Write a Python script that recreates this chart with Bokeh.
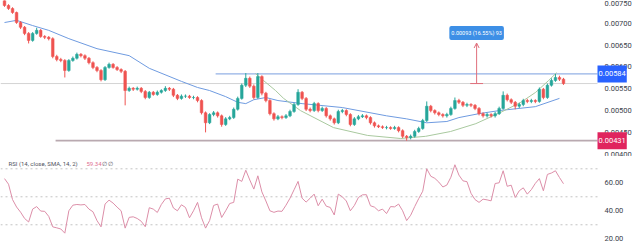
from bokeh.plotting import figure
from bokeh.layouts import column
from bokeh.models import (ColumnDataSource, FixedTicker, PrintfTickFormatter, Range1d,
                          Label, Arrow, OpenHead)
from bokeh.embed import file_html
from bokeh.resources import INLINE

# ---- price data (one candle per bar, oldest first) ----
first_open = 0.00753
closes = [
    0.00741, 0.00734, 0.00725, 0.00702, 0.00691, 0.00677, 0.00661, 0.00677, 0.00684, 0.00670,
    0.00668, 0.00665, 0.00624, 0.00617, 0.00615, 0.00592, 0.00615, 0.00620, 0.00629, 0.00626,
    0.00620, 0.00610, 0.00599, 0.00592, 0.00571, 0.00599, 0.00606, 0.00599, 0.00594, 0.00590,
    0.00546, 0.00551, 0.00549, 0.00551, 0.00544, 0.00530, 0.00542, 0.00537, 0.00542, 0.00546,
    0.00551, 0.00549, 0.00535, 0.00528, 0.00533, 0.00533, 0.00530, 0.00530, 0.00523, 0.00495,
    0.00472, 0.00491, 0.00495, 0.00488, 0.00468, 0.00481, 0.00484, 0.00503, 0.00528, 0.00558,
    0.00574, 0.00556, 0.00530, 0.00578, 0.00540, 0.00523, 0.00493, 0.00481, 0.00486, 0.00484,
    0.00488, 0.00498, 0.00514, 0.00542, 0.00528, 0.00503, 0.00500, 0.00516, 0.00500, 0.00505,
    0.00488, 0.00481, 0.00472, 0.00498, 0.00500, 0.00491, 0.00468, 0.00481, 0.00486, 0.00488,
    0.00484, 0.00472, 0.00465, 0.00463, 0.00461, 0.00461, 0.00459, 0.00461, 0.00454, 0.00441,
    0.00438, 0.00441, 0.00452, 0.00459, 0.00477, 0.00510, 0.00500, 0.00495, 0.00491, 0.00488,
    0.00491, 0.00505, 0.00523, 0.00519, 0.00512, 0.00514, 0.00512, 0.00505, 0.00493, 0.00488,
    0.00491, 0.00488, 0.00493, 0.00505, 0.00535, 0.00525, 0.00519, 0.00510, 0.00514, 0.00523,
    0.00521, 0.00523, 0.00521, 0.00549, 0.00530, 0.00558, 0.00569, 0.00576, 0.00572, 0.00562,
]
highs = [
    0.00758, 0.00744, 0.00737, 0.00727, 0.00705, 0.00694, 0.00680, 0.00680, 0.00690, 0.00687,
    0.00673, 0.00671, 0.00668, 0.00628, 0.00621, 0.00618, 0.00618, 0.00624, 0.00633, 0.00632,
    0.00629, 0.00623, 0.00613, 0.00602, 0.00595, 0.00602, 0.00610, 0.00609, 0.00602, 0.00597,
    0.00593, 0.00555, 0.00554, 0.00555, 0.00554, 0.00547, 0.00545, 0.00545, 0.00546, 0.00549,
    0.00556, 0.00554, 0.00552, 0.00538, 0.00537, 0.00537, 0.00536, 0.00534, 0.00533, 0.00526,
    0.00498, 0.00494, 0.00499, 0.00498, 0.00491, 0.00485, 0.00488, 0.00507, 0.00532, 0.00562,
    0.00586, 0.00578, 0.00560, 0.00586, 0.00581, 0.00543, 0.00526, 0.00496, 0.00490, 0.00489,
    0.00492, 0.00502, 0.00518, 0.00549, 0.00545, 0.00531, 0.00507, 0.00520, 0.00519, 0.00509,
    0.00508, 0.00491, 0.00484, 0.00502, 0.00504, 0.00503, 0.00494, 0.00485, 0.00490, 0.00492,
    0.00491, 0.00487, 0.00475, 0.00468, 0.00466, 0.00465, 0.00464, 0.00465, 0.00464, 0.00457,
    0.00444, 0.00445, 0.00456, 0.00463, 0.00481, 0.00521, 0.00513, 0.00503, 0.00498, 0.00494,
    0.00495, 0.00509, 0.00530, 0.00527, 0.00522, 0.00518, 0.00517, 0.00515, 0.00508, 0.00496,
    0.00495, 0.00494, 0.00497, 0.00509, 0.00544, 0.00539, 0.00528, 0.00522, 0.00518, 0.00527,
    0.00527, 0.00527, 0.00526, 0.00553, 0.00552, 0.00562, 0.00574, 0.00584, 0.00580, 0.00575,
]
lows = [
    0.00738, 0.00731, 0.00722, 0.00699, 0.00687, 0.00673, 0.00654, 0.00658, 0.00674, 0.00667,
    0.00664, 0.00661, 0.00620, 0.00613, 0.00611, 0.00576, 0.00589, 0.00612, 0.00617, 0.00622,
    0.00616, 0.00606, 0.00595, 0.00588, 0.00567, 0.00568, 0.00596, 0.00596, 0.00591, 0.00586,
    0.00512, 0.00543, 0.00545, 0.00546, 0.00540, 0.00526, 0.00527, 0.00534, 0.00534, 0.00539,
    0.00543, 0.00545, 0.00531, 0.00524, 0.00525, 0.00529, 0.00527, 0.00526, 0.00519, 0.00491,
    0.00450, 0.00469, 0.00487, 0.00484, 0.00463, 0.00465, 0.00478, 0.00481, 0.00500, 0.00525,
    0.00554, 0.00552, 0.00526, 0.00527, 0.00535, 0.00519, 0.00489, 0.00477, 0.00478, 0.00480,
    0.00481, 0.00485, 0.00495, 0.00511, 0.00524, 0.00499, 0.00496, 0.00497, 0.00496, 0.00497,
    0.00484, 0.00477, 0.00468, 0.00469, 0.00494, 0.00487, 0.00464, 0.00465, 0.00478, 0.00483,
    0.00480, 0.00468, 0.00461, 0.00460, 0.00458, 0.00457, 0.00456, 0.00456, 0.00450, 0.00437,
    0.00431, 0.00434, 0.00438, 0.00449, 0.00456, 0.00474, 0.00496, 0.00491, 0.00487, 0.00484,
    0.00484, 0.00488, 0.00502, 0.00515, 0.00508, 0.00508, 0.00508, 0.00501, 0.00489, 0.00484,
    0.00484, 0.00484, 0.00484, 0.00490, 0.00502, 0.00521, 0.00515, 0.00503, 0.00506, 0.00510,
    0.00517, 0.00517, 0.00517, 0.00518, 0.00526, 0.00527, 0.00555, 0.00566, 0.00568, 0.00559,
]

# RSI(14) per bar
rsi = [
    63.0, 59.0, 48.0, 42.7, 39.0, 34.5, 32.0, 41.2, 43.0, 39.8,
    39.6, 36.0, 28.5, 27.8, 27.0, 24.0, 40.0, 44.0, 44.5, 44.2,
    44.5, 41.2, 39.3, 33.0, 28.5, 44.8, 47.6, 45.5, 42.6, 40.0,
    27.6, 35.3, 35.7, 34.5, 32.5, 28.6, 42.2, 41.2, 38.8, 44.5,
    48.5, 49.0, 42.0, 40.0, 44.3, 42.4, 35.0, 40.0, 46.0, 35.0,
    27.6, 33.0, 43.8, 44.8, 35.2, 40.0, 45.2, 46.0, 62.6, 61.0,
    69.0, 62.0, 55.5, 65.0, 53.5, 47.0, 40.0, 38.9, 39.8, 39.6,
    44.0, 49.0, 55.0, 61.0, 49.0, 46.2, 49.0, 51.9, 43.6, 48.3,
    43.3, 42.4, 37.0, 51.9, 50.0, 47.0, 40.0, 43.8, 49.5, 51.4,
    51.5, 43.6, 42.6, 40.0, 41.2, 38.0, 43.0, 42.8, 44.8, 40.0,
    33.0, 36.8, 43.0, 48.7, 54.0, 70.0, 64.7, 63.2, 60.5, 57.0,
    58.4, 64.0, 72.9, 65.5, 61.4, 60.8, 52.5, 48.0, 46.0, 48.3,
    47.8, 47.1, 59.5, 60.0, 68.6, 57.5, 58.3, 49.5, 54.3, 56.4,
    51.9, 55.1, 59.6, 63.0, 54.3, 66.0, 67.0, 68.6, 63.8, 59.34,
]

# moving average (sampled at bar positions)
ma_idx = [0, 3, 7, 11, 16, 23, 31, 36, 44, 48, 51, 55, 58, 60, 62, 65, 68, 74,
          84, 95, 100, 105, 110, 113, 118, 123, 132, 138]
ma_vals = [0.00702, 0.00707, 0.00695, 0.00684, 0.00665, 0.00642, 0.00626, 0.00597,
           0.00567, 0.00553, 0.00546, 0.00532, 0.00519, 0.00516, 0.00525, 0.00530,
           0.00523, 0.00516, 0.00507, 0.00488, 0.00481, 0.00472, 0.00475, 0.00484,
           0.00493, 0.00500, 0.00509, 0.00528]

# rounded-bottom (cup) drawing
arc_idx = [62.4, 64.4, 67.4, 69.4, 73.6, 81.8, 90.3, 98.5, 104.7, 110.9, 117.2,
           123.4, 128.4, 132.1, 135.3, 137.3]
arc_vals = [0.00585, 0.00569, 0.00546, 0.00528, 0.00500, 0.00461, 0.00443, 0.00436,
            0.00441, 0.00452, 0.00470, 0.00496, 0.00519, 0.00542, 0.00569, 0.00587]

# horizontal levels and where each drawing starts (bar index)
resistance, resistance_start = 0.00584, 52.5
support, support_start = 0.00431, 12.7

# price-range measurement drawn from the last close
measure_idx = 117.4
measure_delta = 0.00093
measure_pct = 16.55
measure_bars = 93

price_ticks = [0.0040, 0.0045, 0.0050, 0.0055, 0.0060, 0.0065, 0.0070, 0.0075]
rsi_ticks = [20, 40, 60]
rsi_levels = [30, 50, 70]

UP, DOWN = "#26a69a", "#ef5350"
FONT = "Roboto"

n = len(closes)
idx = list(range(n))
opens = [first_open] + closes[:-1]
colors = [UP if c >= o else DOWN for o, c in zip(opens, closes)]
src = ColumnDataSource(dict(i=idx, o=opens, c=closes, h=highs, l=lows, col=colors))

# the plotting area covers the whole width; the price scale sits over its right edge
PANE_W = 640
x_range = Range1d(-0.995, 158.15)
scale_edge = 147.46          # bar position where the price scale column begins


def style_axis(ax, fmt, ticks):
    ax.ticker = FixedTicker(ticks=ticks)
    ax.formatter = PrintfTickFormatter(format=fmt)
    ax.axis_line_color = None
    ax.major_tick_line_color = None
    ax.minor_tick_line_color = None
    ax.major_tick_out = 0
    ax.major_tick_in = 0
    ax.major_label_standoff = -36
    ax.major_label_text_font_size = "7.5px"
    ax.major_label_text_font = FONT
    ax.major_label_text_color = "#3a3e4a"


# ---------------- price pane ----------------
p = figure(frame_width=PANE_W, frame_height=156, x_range=x_range,
           y_range=Range1d(0.003947, 0.007525), x_axis_location=None,
           y_axis_location="right", output_backend="svg", toolbar_location=None,
           min_border=0)
p.grid.visible = False
p.outline_line_color = None
style_axis(p.yaxis[0], "%.5f", price_ticks)

last = closes[-1]
p.segment(x0=[x_range.start], x1=[scale_edge], y0=[last], y1=[last],
          line_color="#d4d4d4", line_width=1)

p.segment(x0=[resistance_start], x1=[scale_edge], y0=[resistance], y1=[resistance],
          line_color="#94b2e6", line_width=1.2)
p.segment(x0=[support_start], x1=[scale_edge], y0=[support], y1=[support],
          line_color="#b9a9b0", line_width=1.6)

p.line(ma_idx, ma_vals, line_color="#6f9be0", line_width=1)
p.line(arc_idx, arc_vals, line_color="#a9c99f", line_width=1)

p.segment(x0="i", x1="i", y0="h", y1="l", color="col", line_width=1, source=src)
p.vbar(x="i", width=0.66, top="o", bottom="c", fill_color="col", line_color="col",
       line_width=0.5, source=src)

# measurement arrow
top = last + measure_delta
p.segment(x0=[measure_idx - 1.6], x1=[measure_idx + 1.6], y0=[last], y1=[last],
          line_color="#e0707c", line_width=1)
p.add_layout(Arrow(end=OpenHead(size=5, line_color="#e0707c", line_width=1),
                   x_start=measure_idx, y_start=last, x_end=measure_idx, y_end=top,
                   line_color="#e0707c", line_width=1))
p.add_layout(Label(x=measure_idx, y=0.00678,
                   text=f"{measure_delta:.5f} ({measure_pct:.2f}%) {measure_bars}",
                   text_align="center", text_baseline="middle", text_font=FONT,
                   text_font_size="5.5px", text_color="white",
                   background_fill_color="#3d8fe6", border_radius=2, padding=(2, 4)))

# level badges on the price scale
for level, fill in [(resistance, "#2962ff"), (support, "#e0245e")]:
    p.add_layout(Label(x=scale_edge, y=level, text=f"{level:.5f}",
                       text_align="left", text_baseline="middle", text_font=FONT,
                       text_font_size="7.5px", text_color="white",
                       background_fill_color=fill, padding=(1, 6)))

# ---------------- RSI pane ----------------
r = figure(frame_width=PANE_W, frame_height=88, x_range=x_range,
           y_range=Range1d(15.9, 78.8), x_axis_location=None, y_axis_location="right",
           output_backend="svg", toolbar_location=None, min_border=0)
r.grid.visible = False
r.outline_line_color = None
style_axis(r.yaxis[0], "%.2f", rsi_ticks)

r.segment(x0=[x_range.start] * len(rsi_levels), x1=[scale_edge] * len(rsi_levels),
          y0=rsi_levels, y1=rsi_levels, line_color="#c4c4c4", line_width=1,
          line_dash="2 3")
r.line(idx, rsi, line_color="#dc8ea8", line_width=1)

r.add_layout(Label(x=8, y=81, x_units="screen", y_units="screen",
                   text="RSI (14, close, SMA, 14, 2)", text_baseline="middle",
                   text_font=FONT, text_font_size="6px", text_color="#50535e"))
r.add_layout(Label(x=86, y=81, x_units="screen", y_units="screen",
                   text=f"{rsi[-1]:.2f}", text_baseline="middle",
                   text_font=FONT, text_font_size="6px", text_color="#e0708f"))
r.add_layout(Label(x=101, y=81, x_units="screen", y_units="screen",
                   text="\u2205  \u2205", text_baseline="middle",
                   text_font=FONT, text_font_size="6px", text_color="#50535e"))

layout = column(p, r, spacing=0)
open("out.html", "w").write(file_html(layout, INLINE))
